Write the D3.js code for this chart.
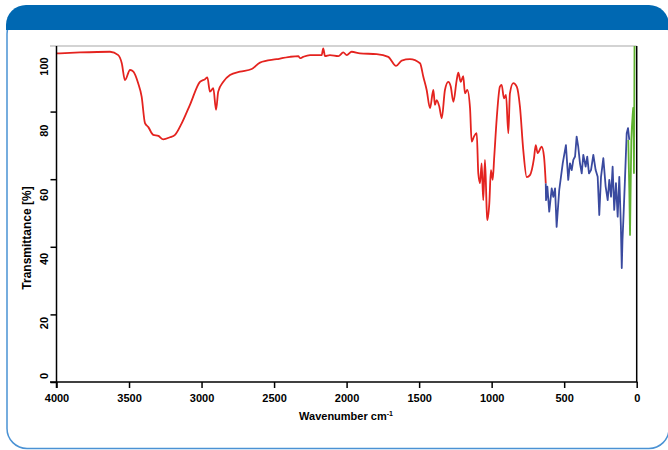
<!DOCTYPE html>
<html>
<head>
<meta charset="utf-8">
<script src="https://cdn.jsdelivr.net/npm/d3@7"></script>
<style>
  html, body { margin: 0; padding: 0; background: #fff; }
  svg { display: block; }
  text { font-family: "Liberation Sans", Arial, sans-serif; font-weight: bold; fill: #000; }
</style>
</head>
<body>
<svg id="chart" width="668" height="450"></svg>
<script>
// ---- data (wavenumber cm-1, transmittance %) ----
const redWn = [3999,3838,3631,3574,3550,3528,3493,3470,3438,3413,3390,3367,3333,3298,3264,3218,3183,3137,3080,3011,2976,2960,2942,2919,2900,2885,2850,2804,2735,2654,2597,2482,2390,2333,2321,2299,2252,2172,2161,2149,2115,2057,2023,1999,1965,1908,1793,1713,1659,1620,1563,1494,1471,1448,1425,1402,1391,1379,1361,1344,1322,1299,1282,1264,1241,1230,1213,1196,1184,1168,1149,1138,1122,1103,1092,1080,1069,1058,1046,1034,1030,1016,1005,993,982,965,943,931,915,901,885,874,851,827,805,782,758,736,708,696,683,655,639,627];
const redT  = [97.2,97.5,97.7,96.7,94.3,89.3,92.3,91.8,88.5,84.4,76.6,75.4,73.1,72.8,71.8,72.4,73.1,76.5,82.0,88.8,89.6,90.1,85.9,86.9,80.5,85.9,88.8,90.8,91.8,92.6,94.5,95.5,96.2,96.4,95.8,96.2,96.7,96.7,98.7,96.4,96.7,96.4,97.5,96.7,97.7,97.2,97.0,96.2,93.5,95.1,95.5,94.3,90.3,86.4,81.0,86.4,82.0,83.4,81.5,78.0,86.4,88.8,87.4,82.9,89.3,91.5,88.8,90.5,85.4,86.4,81.0,71.1,72.6,73.6,61.7,58.8,64.7,53.8,65.7,50.9,47.9,52.9,62.7,59.8,66.7,78.0,87.4,87.9,83.9,84.9,73.6,85.4,88.4,87.4,81.5,68.6,60.6,61.2,66.2,70.1,67.7,69.6,66.7,58.8];

const blueWn = [627,625,616,603,586,575,563,552,534,510,488,472,460,448,437,425,414,403,391,379,368,352,341,329,315,299,283,269,258,246,230,214,200,189,177,166,155,143,131,120,109,103,98,92,81,69,60,51];
const blueT  = [58.8,53.8,57.8,50.4,57.3,54.8,57.3,45.9,56.8,64.7,70.1,59.8,64.7,62.7,65.7,66.7,72.6,69.6,64.7,61.7,67.2,63.7,66.7,61.7,62.7,67.2,62.7,60.7,49.4,60.7,66.2,57.8,53.8,59.8,54.8,63.7,50.9,58.8,48.9,60.7,45.9,33.7,42.0,47.9,59.8,73.6,75.1,71.6];

const greenWn = [58,51,46,41,37,33,28,24,21,19,17,15,14];
const greenT  = [71.6,56.8,43.5,59.8,71.6,75.4,79.0,81.1,76.0,61.8,77.5,99.4,101];

const xTicks = [4000,3500,3000,2500,2000,1500,1000,500,0];
const yTicks = [0,20,40,60,80];
const yTickLabels = [0,20,40,60,80,100];

// ---- layout ----
const svg = d3.select("#chart");
const x = d3.scaleLinear().domain([4000, 0]).range([56.5, 636.7]);
const y = d3.scaleLinear().domain([0, 99.4]).range([382, 46]);
// tick labels in the reference sit slightly off their ticks
const yLab = d3.scaleLinear().domain([0, 20, 100]).range([376, 323, 66.5]);

// frame
svg.append("rect")
  .attr("x", 7).attr("y", 14).attr("width", 662).attr("height", 434.5)
  .attr("rx", 20).attr("ry", 20)
  .attr("fill", "#fff").attr("stroke", "#4a92d4").attr("stroke-width", 1.5);

// header bar with rounded top corners
const hx0 = 6, hx1 = 669, hy0 = 5, hy1 = 30, r = 20;
svg.append("path")
  .attr("d", `M${hx0},${hy1} L${hx0},${hy0 + r} A${r},${r} 0 0 1 ${hx0 + r},${hy0} L${hx1 - r},${hy0} A${r},${r} 0 0 1 ${hx1},${hy0 + r} L${hx1},${hy1} Z`)
  .attr("fill", "#0068b2");

// plot frame lines
svg.append("line").attr("x1", 50).attr("x2", 636.7).attr("y1", 46).attr("y2", 46)
  .attr("stroke", "#a8a8a8").attr("stroke-width", 1.2);
svg.append("line").attr("x1", 636.7).attr("x2", 636.7).attr("y1", 46).attr("y2", 382)
  .attr("stroke", "#000").attr("stroke-width", 1.5);

// clip
svg.append("clipPath").attr("id", "clip")
  .append("rect").attr("x", 56.5).attr("y", 46).attr("width", 580.2).attr("height", 336);

const smooth = d3.line().x(d => x(d[0])).y(d => y(d[1])).curve(d3.curveMonotoneX);
const sharp = d3.line().x(d => x(d[0])).y(d => y(d[1]));
const g = svg.append("g").attr("clip-path", "url(#clip)");
g.append("path").datum(blueWn.map((w, i) => [w, blueT[i]]))
  .attr("d", sharp).attr("fill", "none").attr("stroke", "#3a4a9f").attr("stroke-width", 1.8).attr("stroke-linejoin", "round");
g.append("path").datum(redWn.map((w, i) => [w, redT[i]]))
  .attr("d", smooth).attr("fill", "none").attr("stroke", "#e4231f").attr("stroke-width", 1.8).attr("stroke-linejoin", "round");
g.append("path").datum(greenWn.map((w, i) => [w, greenT[i]]))
  .attr("d", sharp).attr("fill", "none").attr("stroke", "#5fb12f").attr("stroke-width", 1.8).attr("stroke-linejoin", "round");

// x axis
const xAxis = svg.append("g").attr("transform", "translate(0,382)")
  .call(d3.axisBottom(x).tickValues(xTicks).tickSize(6).tickSizeOuter(0).tickPadding(6).tickFormat(d3.format("d")));
xAxis.select(".domain").remove();
xAxis.selectAll(".tick line").attr("stroke", "#000").attr("stroke-width", 1.5);
xAxis.selectAll(".tick text").attr("font-size", 11).attr("font-weight", "bold")
  .attr("font-family", "Liberation Sans, Arial, sans-serif").attr("dy", "0.75em");
svg.append("line").attr("x1", 50).attr("x2", 637.4).attr("y1", 382).attr("y2", 382)
  .attr("stroke", "#000").attr("stroke-width", 1.5);

// y axis
const yAxis = svg.append("g").attr("transform", "translate(56.5,0)")
  .call(d3.axisLeft(y).tickValues(yTicks).tickSize(6).tickSizeOuter(0).tickFormat(""));
yAxis.select(".domain").remove();
yAxis.selectAll(".tick line").attr("stroke", "#000").attr("stroke-width", 1.5);
svg.append("line").attr("x1", 56.5).attr("x2", 56.5).attr("y1", 46).attr("y2", 388)
  .attr("stroke", "#000").attr("stroke-width", 1.5);

svg.append("g").selectAll("text").data(yTickLabels).join("text")
  .attr("transform", d => `translate(44,${yLab(d)}) rotate(-90)`)
  .attr("text-anchor", "middle").attr("dy", "0.35em")
  .attr("font-size", 11)
  .text(d => d);

// axis titles
const xt = svg.append("text").attr("x", 346).attr("y", 420).attr("text-anchor", "middle").attr("font-size", 11);
xt.append("tspan").text("Wavenumber cm");
xt.append("tspan").attr("font-size", 7).attr("dy", -4).text("-1");

svg.append("text")
  .attr("transform", "translate(27,238) rotate(-90)")
  .attr("text-anchor", "middle").attr("dy", "0.35em")
  .attr("font-size", 12)
  .text("Transmittance [%]");
</script>
</body>
</html>
